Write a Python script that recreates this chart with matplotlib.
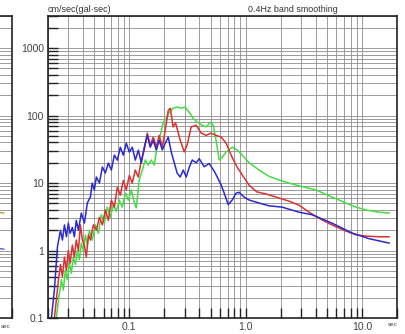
import matplotlib
matplotlib.use("Agg")
import matplotlib.pyplot as plt
from matplotlib.ticker import LogLocator, NullFormatter, FixedLocator, FixedFormatter

plt.rcParams["font.family"] = ["Liberation Sans", "DejaVu Sans"]

# 周期 (sec) / 速度応答 (cm/sec)
blue_t = [0.0214, 0.0227, 0.0241, 0.0256, 0.0266, 0.0277, 0.0288, 0.0299, 0.031, 0.0324,
          0.0337, 0.035, 0.0365, 0.0387, 0.0411, 0.0436, 0.0463, 0.048, 0.050, 0.0521,
          0.0553, 0.0587, 0.0622, 0.066, 0.0701, 0.0744, 0.0789, 0.0837, 0.0888, 0.0942,
          0.1, 0.106, 0.1126, 0.1195, 0.1268, 0.1345, 0.1427, 0.1514, 0.1607, 0.1705,
          0.1809, 0.192, 0.2037, 0.2161, 0.2293, 0.2433, 0.258, 0.274, 0.291, 0.3085,
          0.327, 0.3475, 0.376, 0.399, 0.44, 0.486, 0.537, 0.57, 0.617, 0.654,
          0.708, 0.766, 0.828, 0.879, 0.97, 1.072, 1.306, 1.59, 2.06, 2.88,
          3.72, 5.52, 8.2, 11.5, 17.1]
blue_v = [0.1, 0.26, 1.13, 2.0, 1.43, 2.4, 1.6, 2.55, 1.8, 2.2,
          1.6, 2.8, 2.0, 3.6, 2.55, 5.1, 6.2, 10.0, 7.9, 12.3,
          10.0, 17.3, 14.1, 19.8, 15.6, 26.0, 21.9, 34.0, 26.0, 39.0,
          28.8, 34.0, 21.9, 30.8, 19.8, 34.0, 51.0, 34.0, 43.0, 31.0,
          43.0, 31.0, 39.0, 48.0, 29.0, 20.0, 14.0, 12.3, 15.6, 12.3,
          17.0, 22.0, 20.0, 23.0, 17.5, 19.5, 15.0, 12.3, 9.3, 7.1,
          4.8, 5.6, 7.1, 7.3, 6.2, 5.6, 5.06, 4.6, 4.4, 3.7,
          3.4, 2.55, 1.82, 1.5, 1.29]

red_t = [0.0227, 0.0236, 0.0246, 0.0256, 0.0266, 0.0277, 0.0288, 0.0299, 0.031, 0.0324,
         0.0337, 0.035, 0.0365, 0.038, 0.0395, 0.0411, 0.0427, 0.0445, 0.0463, 0.0491,
         0.0521, 0.0553, 0.0587, 0.0622, 0.066, 0.0701, 0.0744, 0.0789, 0.0837, 0.0888,
         0.0942, 0.1, 0.106, 0.1126, 0.1195, 0.1268, 0.1345, 0.1427, 0.1514, 0.1607,
         0.1705, 0.1809, 0.192, 0.2037, 0.2161, 0.225, 0.238, 0.25, 0.274, 0.2966,
         0.3145, 0.34, 0.376, 0.415, 0.458, 0.505, 0.557, 0.617, 0.68, 0.766,
         0.845, 0.935, 1.072, 1.25, 1.5, 1.94, 2.36, 2.88, 3.51, 4.28,
         5.52, 7.0, 8.87, 10.8, 14.0, 17.1]
red_v = [0.1, 0.185, 0.37, 0.62, 0.41, 0.8, 0.51, 1.0, 0.65, 1.2,
         0.8, 1.43, 1.0, 2.4, 1.43, 1.2, 0.8, 1.7, 1.43, 2.4,
         2.0, 3.1, 2.4, 4.0, 2.8, 5.6, 4.4, 8.7, 6.6, 11.0,
         7.9, 13.0, 10.0, 15.6, 12.3, 22.0, 31.0, 55.0, 37.0, 48.0,
         34.0, 51.0, 34.0, 61.0, 120.0, 129.0, 68.0, 78.0, 43.0, 29.0,
         37.0, 68.0, 72.0, 55.0, 51.0, 55.0, 51.0, 48.0, 39.0, 24.0,
         17.3, 13.2, 9.3, 7.4, 6.9, 6.0, 5.4, 4.7, 3.7, 3.0,
         2.4, 2.0, 1.71, 1.64, 1.6, 1.6]

green_t = [0.0236, 0.0246, 0.0261, 0.0271, 0.0282, 0.0293, 0.0305, 0.0317, 0.033, 0.0344,
           0.0358, 0.0372, 0.0387, 0.0403, 0.0419, 0.0436, 0.0454, 0.048, 0.0511, 0.0542,
           0.0575, 0.061, 0.0647, 0.0687, 0.0729, 0.0773, 0.082, 0.087, 0.0924, 0.098,
           0.104, 0.1104, 0.1148, 0.1218, 0.1293, 0.1372, 0.1456, 0.1545, 0.164, 0.174,
           0.1845, 0.196, 0.208, 0.2205, 0.238, 0.258, 0.279, 0.3027, 0.327, 0.354,
           0.384, 0.423, 0.458, 0.496, 0.527, 0.557, 0.5925, 0.628, 0.68, 0.766,
           0.845, 0.935, 1.072, 1.306, 1.59, 1.94, 2.36, 2.88, 4.03, 5.52,
           7.29, 8.87, 10.8, 14.0, 17.1]
green_v = [0.1, 0.185, 0.37, 0.26, 0.51, 0.37, 0.65, 0.46, 0.8, 0.62,
           1.0, 0.73, 1.29, 1.0, 1.7, 1.2, 2.0, 1.43, 2.4, 1.8,
           3.4, 2.55, 4.4, 3.1, 4.8, 3.8, 5.6, 4.4, 7.1, 5.6,
           7.9, 5.1, 4.3, 11.1, 15.6, 22.0, 18.5, 22.0, 18.5, 37.0,
           51.0, 80.0, 91.0, 112.0, 129.0, 134.0, 129.0, 134.0, 112.0, 91.0,
           80.0, 72.0, 68.0, 80.0, 72.0, 43.0, 22.0, 24.0, 29.0, 34.0,
           31.0, 26.0, 20.0, 15.6, 12.6, 11.1, 10.0, 9.1, 7.9, 6.2,
           5.06, 4.4, 4.0, 3.7, 3.6]

# 左側パネル (一部のみ見える)
left_t = [8.0, 12.0, 17.0]
left_olive_v = [4.2, 3.9, 3.6]
left_blue_v = [1.2, 1.12, 1.05]

y_ticks = [0.1, 1, 10, 100, 1000]
y_labels = ["0.1", "1", "10", "100", "1000"]
x_ticks = [0.1, 1.0, 10.0]
x_labels = ["0.1", "1.0", "10.0"]

GRID = "#8c8c8c"


def style_axes(ax):
    ax.set_xscale("log")
    ax.set_yscale("log")
    ax.set_xlim(0.02, 20)
    ax.set_ylim(0.1, 3000)
    ax.xaxis.set_minor_locator(LogLocator(base=10, subs=range(2, 10), numticks=20))
    ax.yaxis.set_minor_locator(LogLocator(base=10, subs=range(2, 10), numticks=20))
    ax.xaxis.set_minor_formatter(NullFormatter())
    ax.yaxis.set_minor_formatter(NullFormatter())
    ax.grid(True, which="both", color=GRID, linewidth=0.6)
    ax.set_axisbelow(True)
    for s in ax.spines.values():
        s.set_linewidth(1.2)
        s.set_color("#222222")
    ax.tick_params(which="both", direction="in", length=7, width=1.0, color="#222222",
                   top=False, right=False)


fig = plt.figure(figsize=(4.06, 3.34), dpi=100)

# 左パネル
ax0 = fig.add_axes([(12 - 349) / 406, 16 / 334, 349 / 406, 302 / 334])
style_axes(ax0)
ax0.set_yticklabels([])
ax0.set_xticklabels([])
ax0.plot(left_t, left_olive_v, color="#b0a040", linewidth=1.0)
ax0.plot(left_t, left_blue_v, color="#5555dd", linewidth=1.0)
fig.text(6 / 406, 1 - 327 / 334, "sec", fontsize=4.5, color="#444444", ha="center", va="center")

# メインパネル
ax = fig.add_axes([48 / 406, 16 / 334, 349 / 406, 302 / 334])
style_axes(ax)
ax.plot(green_t, green_v, color="#44dd44", linewidth=1.1)
ax.plot(red_t, red_v, color="#dd3030", linewidth=1.1)
ax.plot(blue_t, blue_v, color="#2a2ad0", linewidth=1.1)

ax.yaxis.set_major_locator(FixedLocator(y_ticks))
ax.yaxis.set_major_formatter(FixedFormatter(y_labels))
ax.xaxis.set_major_locator(FixedLocator(x_ticks))
ax.xaxis.set_major_formatter(FixedFormatter(x_labels))
ax.tick_params(axis="both", which="major", labelsize=7.5, labelcolor="#444444", pad=3)

fig.text(48 / 406, 1 - 9 / 334, "cm/sec(gal\u00b7sec)", fontsize=6.5, color="#333333",
         ha="left", va="center")
fig.text(293 / 406, 1 - 9 / 334, "0.4Hz band smoothing", fontsize=6.4, color="#333333",
         ha="center", va="center")
fig.text(393 / 406, 1 - 325 / 334, "sec", fontsize=4.5, color="#444444", ha="center", va="center")

fig.savefig("out.png", dpi=100)
